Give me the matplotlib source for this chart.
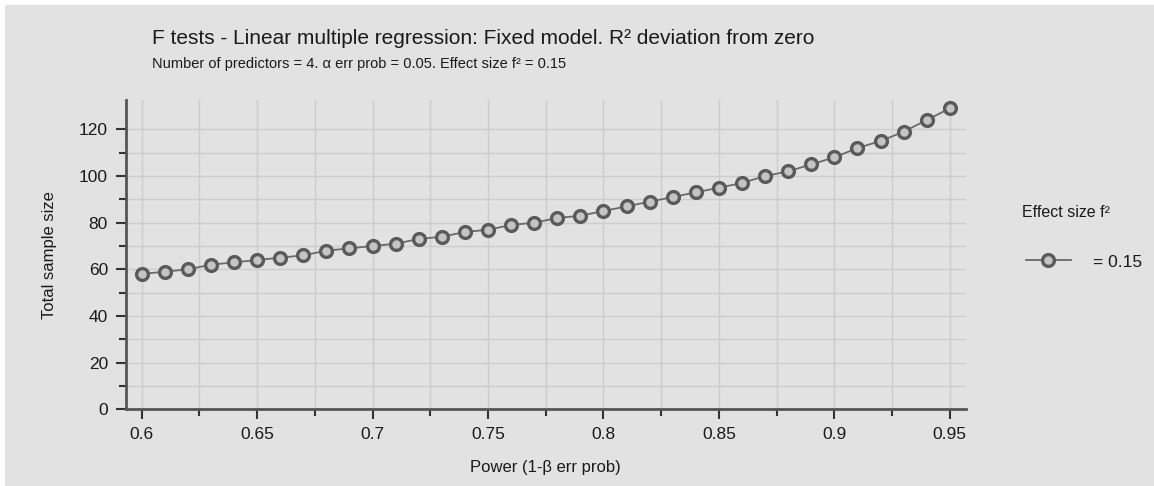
import numpy as np
import matplotlib
matplotlib.use("Agg")
import matplotlib.pyplot as plt
from matplotlib.patches import Rectangle
from matplotlib.ticker import FixedLocator

# power values (x) and required total sample size (y)
power = [0.60, 0.61, 0.62, 0.63, 0.64, 0.65, 0.66, 0.67, 0.68, 0.69,
         0.70, 0.71, 0.72, 0.73, 0.74, 0.75, 0.76, 0.77, 0.78, 0.79,
         0.80, 0.81, 0.82, 0.83, 0.84, 0.85, 0.86, 0.87, 0.88, 0.89,
         0.90, 0.91, 0.92, 0.93, 0.94, 0.95]
sample_size = [58, 59, 60, 62, 63, 64, 65, 66, 68, 69,
               70, 71, 73, 74, 76, 77, 79, 80, 82, 83,
               85, 87, 89, 91, 93, 95, 97, 100, 102, 105,
               108, 112, 115, 119, 124, 129]
x_ticks = [0.6, 0.65, 0.7, 0.75, 0.8, 0.85, 0.9, 0.95]
x_tick_labels = ["0.6", "0.65", "0.7", "0.75", "0.8", "0.85", "0.9", "0.95"]
y_ticks = [0, 20, 40, 60, 80, 100, 120]

title = "F tests - Linear multiple regression: Fixed model. R² deviation from zero"
subtitle = "Number of predictors = 4. α err prob = 0.05. Effect size f² = 0.15"
legend_title = "Effect size f²"
series_label = "= 0.15"

plt.rcParams['font.family'] = ['Liberation Sans', 'DejaVu Sans']

bg = "#e2e2e2"
fig = plt.figure(figsize=(11.54, 4.86), dpi=100)
fig.patch.set_facecolor("white")
fig.patches.append(Rectangle((5 / 1154, -0.05), 1.1, 1.05 - 5 / 486, transform=fig.transFigure,
                             facecolor=bg, edgecolor="none", zorder=-10))

ax = fig.add_axes([126 / 1154, 1 - 409.3 / 486, 839.7 / 1154, 309.3 / 486])
ax.set_facecolor(bg)

line, = ax.plot(power, sample_size, color="#6a6a6a", lw=1.3, marker="o", ms=8.5,
                mfc="#c4c4c4", mec="#5a5a5a", mew=2.4, zorder=3, clip_on=False)

ax.set_xlim(0.5932, 0.9569)
ax.set_ylim(0, 132.6)
ax.xaxis.set_major_locator(FixedLocator(x_ticks))
ax.set_xticklabels(x_tick_labels)
ax.xaxis.set_minor_locator(FixedLocator(np.arange(0.625, 0.95, 0.05)))
ax.yaxis.set_major_locator(FixedLocator(y_ticks))
ax.yaxis.set_minor_locator(FixedLocator(np.arange(10, 120, 20)))

ax.grid(True, which="both", color="#cdcdcd", lw=1.0)
ax.set_axisbelow(True)

for s in ["top", "right"]:
    ax.spines[s].set_visible(False)
for s in ["left", "bottom"]:
    ax.spines[s].set_color("#555555")
    ax.spines[s].set_linewidth(2.0)

ax.tick_params(which="major", length=7, width=1.5, color="#333333",
               labelsize=12.5, labelcolor="#1a1a1a", pad=6)
ax.tick_params(which="minor", length=5, width=1.5, color="#333333")

ax.set_xlabel("Power (1-β err prob)", fontsize=12, color="#1a1a1a", labelpad=13)
ax.set_ylabel("Total sample size", fontsize=12, color="#1a1a1a", labelpad=16)

fig.text(152 / 1154, 1 - 38 / 486, title, fontsize=15, color="#1a1a1a",
         va="center", ha="left")
fig.text(152 / 1154, 1 - 64 / 486, subtitle, fontsize=10.5, color="#1a1a1a",
         va="center", ha="left")

fig.text(1022 / 1154, 1 - 212 / 486, legend_title, fontsize=11.5, color="#1a1a1a",
         va="center", ha="left")
ax.legend([line], [series_label], loc="center left", frameon=False,
          bbox_to_anchor=(1010 / 1154, 1 - 262 / 486), bbox_transform=fig.transFigure,
          fontsize=12.5, handlelength=2.6, handletextpad=1.3, labelcolor="#1a1a1a")

fig.savefig("out.png", dpi=100, facecolor=fig.get_facecolor())
